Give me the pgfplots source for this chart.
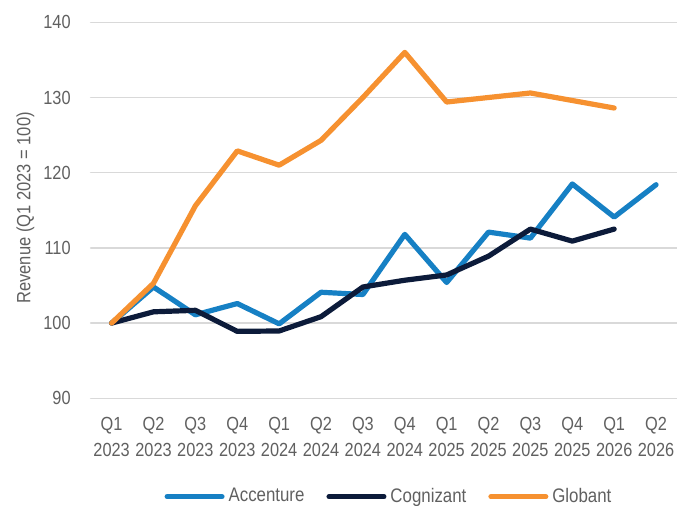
\documentclass[border=0pt]{standalone}
\usepackage{fontspec}
\setmainfont{Liberation Sans}[FakeStretch=0.86]
\usepackage{pgfplots}
\pgfplotsset{compat=1.18}
\definecolor{acc}{RGB}{22,128,196}
\definecolor{cog}{RGB}{12,27,58}
\definecolor{glo}{RGB}{246,145,48}
\definecolor{txt}{RGB}{96,96,96}
\definecolor{grd}{RGB}{217,217,217}
\begin{document}
\begin{tikzpicture}
\useasboundingbox (-45.35pt,-53.85pt) rectangle (293.15pt,199.15pt);
\begin{axis}[
  scale only axis,
  width=293.15pt, height=188pt,
  xmin=-0.5, xmax=13.5, ymin=90, ymax=140,
  axis line style={draw=none},
  ytick={90,100,...,140},
  ymajorgrids, grid style={grd, line width=0.75pt},
  xtick={0,...,13},
  xticklabels={{Q1\\2023},{Q2\\2023},{Q3\\2023},{Q4\\2023},{Q1\\2024},{Q2\\2024},{Q3\\2024},{Q4\\2024},{Q1\\2025},{Q2\\2025},{Q3\\2025},{Q4\\2025},{Q1\\2026},{Q2\\2026}},
  major tick length=0pt, tick style={draw=none},
  /pgf/number format/assume math mode=true,
  ticklabel style={font=\fontsize{9.5}{12.8}\selectfont, text=txt},
  xticklabel style={align=center, yshift=-6pt},
  yticklabel style={xshift=-6.5pt},
  ylabel={Revenue (Q1 2023 = 100)},
  every axis y label/.style={at={(rel axis cs:0,0.5)}, rotate=90, anchor=center,
    yshift=32.6pt, xshift=1.2pt, font=\fontsize{9.6}{11}\selectfont, text=txt},
  legend columns=3,
  legend style={draw=none, fill=none, at={(rel axis cs:0.5105,-0.2617)}, anchor=center,
    font=\fontsize{9.8}{11}\selectfont, text=txt, inner sep=0pt,
    /tikz/every even column/.append style={column sep=9pt}},
  legend cell align=left,
  legend image code/.code={\draw[#1, line width=2.5pt, line cap=round] (0pt,0pt) -- (27.5pt,0pt);},
  line join=round, line cap=round,
]
\addplot[acc, line width=2.6pt] coordinates {
(0,100) (1,104.8) (2,101.1) (3,102.6) (4,99.9) (5,104.1) (6,103.8) (7,111.8) (8,105.4) (9,112.1) (10,111.3) (11,118.5) (12,114.1) (13,118.4)};
\addlegendentry{Accenture}
\addplot[cog, line width=2.6pt] coordinates {
(0,100) (1,101.5) (2,101.7) (3,98.9) (4,98.95) (5,100.85) (6,104.8) (7,105.7) (8,106.4) (9,108.9) (10,112.5) (11,110.9) (12,112.5)};
\addlegendentry{Cognizant}
\addplot[glo, line width=2.6pt] coordinates {
(0,100) (1,105.3) (2,115.6) (3,122.9) (4,121.0) (5,124.3) (6,130.0) (7,136.0) (8,129.4) (9,130.0) (10,130.6) (11,129.6) (12,128.6)};
\addlegendentry{Globant}
\end{axis}
\end{tikzpicture}
\end{document}
